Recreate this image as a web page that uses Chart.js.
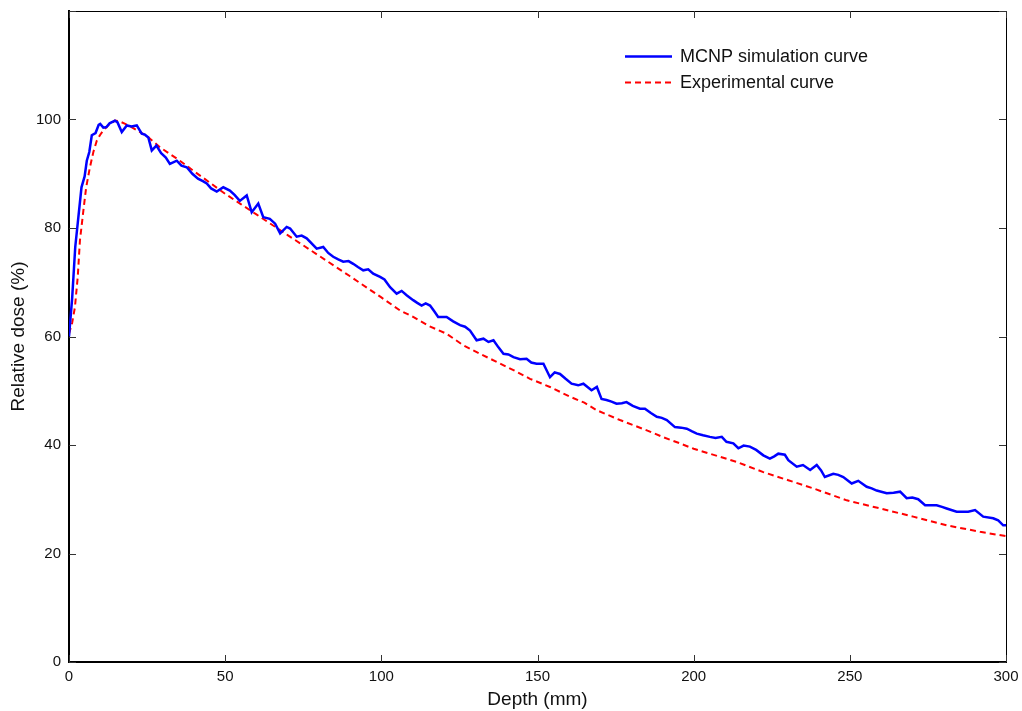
<!DOCTYPE html>
<html>
<head>
<meta charset="utf-8">
<script src="https://cdn.jsdelivr.net/npm/chart.js@4.4.1/dist/chart.umd.min.js"></script>
<style>
  html, body { margin: 0; padding: 0; background: #fff; }
  #wrap { width: 1022px; height: 711px; }
</style>
</head>
<body>
<div id="wrap"><canvas id="doseChart" width="1022" height="711"></canvas></div>
<script>
// depth / dose values
const xTicks = [0, 50, 100, 150, 200, 250, 300];
const yTicks = [0, 20, 40, 60, 80, 100, 120];

const depthSim = [0, 1, 2, 3, 4, 5, 5.7, 6.5, 7.3, 8.5, 9.5, 10, 11, 12, 13, 14.7, 15.5, 16.9, 18.5, 20,
  21.7, 23.3, 24.3, 25.4, 26.5, 28, 29.5, 31, 32.3, 34.5, 36, 37.7, 39.5, 41.3, 43, 44.1, 45.5, 47.3, 49.4, 51.5,
  53, 54.7, 56.9, 58.5, 60.6, 62.2, 64.3, 66, 67.6, 69.7, 70.8, 72.9, 74.5, 76.1, 79.3, 81.4, 83, 84.6, 86.2, 87.8,
  89.5, 91, 92.5, 94.2, 95.8, 97.4, 99.6, 101, 102.8, 104.9, 106.5, 108.1, 110.2, 111.5, 112.9, 114.2, 115.6, 117, 118.2, 120.9,
  123, 125.2, 126.8, 128.4, 130.5, 132.7, 134.3, 135.9, 137.5, 139.1, 140.7, 142.3, 144.4, 146.5, 148, 149.7, 151.9, 154, 155.5, 157.2,
  159, 160.9, 163, 164.7, 167.3, 169, 170.5, 172.1, 173.7, 175.3, 177, 178.5, 180.5, 182.8, 184.4, 186.3, 188.2, 189.8, 191.4, 194,
  196, 197.8, 199.5, 201, 203, 205.2, 207, 209, 210.5, 212.7, 214.3, 216, 218, 220, 222.3, 224.4, 225.8, 227.1, 229.2, 230.3,
  233, 235, 237.3, 239.4, 240.8, 242, 244.7, 246.3, 247.9, 250.6, 252.7, 255.4, 257, 258.6, 261.8, 264, 266.1, 268.2, 270, 271.9,
  274.1, 277.8, 279.5, 281, 284.2, 287.9, 290.1, 292.7, 295.9, 297.5, 299.1, 300];
const doseSim = [60, 67, 76.5, 82, 87.5, 89.5, 92.4, 94, 97.1, 97.5, 99, 99.2, 98.5, 98.6, 99.3, 99.8, 99.5, 97.7, 98.9, 98.7,
  98.9, 97.4, 97.2, 96.7, 94.3, 95.2, 93.8, 93, 91.8, 92.4, 91.5, 91.2, 90, 89.1, 88.6, 88.2, 87.3, 86.7, 87.5, 86.9,
  86.1, 85, 86, 82.9, 84.5, 82, 81.7, 80.8, 79, 80.2, 79.9, 78.4, 78.6, 78.1, 76.2, 76.5, 75.4, 74.7, 74.2, 73.8,
  73.9, 73.4, 72.8, 72.2, 72.4, 71.6, 71, 70.5, 69.1, 67.9, 68.4, 67.6, 66.7, 66.2, 65.7, 66.1, 65.7, 64.6, 63.6, 63.6,
  62.8, 62.1, 61.8, 61.1, 59.3, 59.6, 59, 59.3, 58, 56.8, 56.7, 56.2, 55.8, 55.9, 55.2, 55, 55, 52.5, 53.4, 53.1,
  52.2, 51.3, 51, 51.3, 50.1, 50.7, 48.5, 48.3, 48, 47.6, 47.7, 47.9, 47.2, 46.7, 46.7, 45.9, 45.2, 45, 44.6, 43.3,
  43.2, 43, 42.5, 42.1, 41.8, 41.5, 41.3, 41.5, 40.6, 40.3, 39.4, 39.9, 39.7, 39.1, 38.1, 37.5, 37.9, 38.4, 38.2, 37.2,
  36, 36.3, 35.4, 36.3, 35.3, 34.1, 34.7, 34.5, 34.1, 32.9, 33.4, 32.3, 32, 31.6, 31.1, 31.2, 31.4, 30.2, 30.3, 30,
  28.9, 28.9, 28.6, 28.3, 27.7, 27.7, 28, 26.8, 26.5, 26.1, 25.2, 25.2];

const depthExp = [0, 1, 1.9, 2.8, 3.5, 4.6, 5.5, 6.7, 7.8, 8.9, 10, 11, 12.5, 14.7, 16, 18, 20, 25, 29.1, 35,
  39.7, 45, 50, 55, 60, 65, 70, 75, 80, 85, 90, 96.4, 100, 106, 110.2, 115, 120.9, 126.2, 131.6, 137,
  142.3, 147.6, 154, 160.4, 165, 169, 176.4, 185, 190, 195.6, 200, 205.2, 213.7, 222.3, 230.3, 238.3, 249, 259.7, 270.3, 281,
  291.7, 300];
const doseExp = [60.5, 62.5, 65.4, 71, 77.7, 83.2, 87.5, 91.2, 94, 96.1, 97.2, 98, 98.9, 99.8, 99.7, 99.2, 98.6, 96.9, 94.9, 92.6,
  90.6, 88.4, 86.3, 84.4, 82.5, 80.6, 78.7, 76.8, 74.9, 73, 71.1, 68.6, 67.2, 64.8, 63.6, 62, 60.5, 58.4, 56.8, 55.3,
  53.8, 52.2, 50.7, 48.9, 47.8, 46.4, 44.6, 42.7, 41.5, 40.3, 39.3, 38.4, 36.9, 35, 33.5, 32, 29.8, 28.3, 26.8, 25.2,
  24, 23.2];

const simPoints = depthSim.map((d, i) => ({ x: d, y: doseSim[i] }));
const expPoints = depthExp.map((d, i) => ({ x: d, y: doseExp[i] }));

const FONT = '"Liberation Sans", Arial, sans-serif';

// MATLAB style box: thin top/right edges, ticks pointing inwards, legend inside
const boxPlugin = {
    id: 'box',
    afterDraw(chart) {
        const ctx = chart.ctx;
        const { left, right, top, bottom } = chart.chartArea;
        const xs = chart.scales.x, ys = chart.scales.y;
        ctx.save();
        ctx.strokeStyle = '#000';
        ctx.lineWidth = 1;
        ctx.beginPath();
        ctx.moveTo(left, top + 0.5); ctx.lineTo(right + 0.5, top + 0.5);
        ctx.moveTo(right + 0.5, top); ctx.lineTo(right + 0.5, bottom);
        ctx.stroke();

        ctx.strokeStyle = '#333';
        ctx.beginPath();
        xTicks.forEach(v => {
            const px = Math.round(xs.getPixelForValue(v)) + 0.5;
            ctx.moveTo(px, bottom); ctx.lineTo(px, bottom - 7);
            ctx.moveTo(px, top); ctx.lineTo(px, top + 7);
        });
        yTicks.forEach(v => {
            const py = Math.round(ys.getPixelForValue(v)) + 0.5;
            ctx.moveTo(left, py); ctx.lineTo(left + 7, py);
            ctx.moveTo(right, py); ctx.lineTo(right - 7, py);
        });
        ctx.stroke();

        // legend
        const lx = 625, lw = 47;
        const rows = [56, 82];
        ctx.font = '18px ' + FONT;
        ctx.textBaseline = 'middle';
        chart.data.datasets.forEach((ds, i) => {
            const y = rows[i] + 0.5;
            ctx.strokeStyle = ds.borderColor;
            ctx.lineWidth = ds.borderWidth;
            ctx.setLineDash(ds.borderDash || []);
            ctx.beginPath();
            ctx.moveTo(lx, y); ctx.lineTo(lx + lw, y);
            ctx.stroke();
            ctx.setLineDash([]);
            ctx.fillStyle = '#111';
            ctx.fillText(ds.label, 680, rows[i] + 1);
        });
        ctx.restore();
    }
};

const ctx = document.getElementById('doseChart').getContext('2d');
new Chart(ctx, {
    type: 'scatter',
    data: {
        datasets: [{
            label: 'MCNP simulation curve',
            data: simPoints,
            showLine: true,
            borderColor: '#0000ff',
            borderWidth: 2.5,
            pointRadius: 0,
            tension: 0
        }, {
            label: 'Experimental curve',
            data: expPoints,
            showLine: true,
            borderColor: '#ff0000',
            borderWidth: 2,
            borderDash: [6, 4],
            pointRadius: 0,
            tension: 0
        }]
    },
    options: {
        responsive: false,
        animation: false,
        layout: { padding: { top: 11, right: 16, left: 0, bottom: 0 } },
        plugins: {
            legend: { display: false },
            tooltip: { enabled: false }
        },
        scales: {
            x: {
                type: 'linear',
                min: 0,
                max: 300,
                afterBuildTicks: scale => { scale.ticks = xTicks.map(v => ({ value: v })); },
                afterFit: scale => {
                    scale.height = 49;
                    scale.paddingLeft = 0;
                    scale.paddingRight = 0;
                },
                grid: { display: false, drawTicks: false },
                border: { display: true, color: '#000', width: 2 },
                ticks: {
                    color: '#111',
                    padding: 6,
                    maxRotation: 0,
                    font: { family: FONT, size: 15 }
                },
                title: {
                    display: true,
                    text: 'Depth (mm)',
                    color: '#111',
                    padding: 0,
                    font: { family: FONT, size: 19 }
                }
            },
            y: {
                type: 'linear',
                min: 0,
                max: 120,
                afterBuildTicks: scale => { scale.ticks = yTicks.map(v => ({ value: v })); },
                afterFit: scale => {
                    scale.width = 69;
                    scale.paddingTop = 0;
                    scale.paddingBottom = 0;
                },
                grid: { display: false, drawTicks: false },
                border: { display: true, color: '#000', width: 2 },
                ticks: {
                    color: '#111',
                    padding: 8,
                    callback: v => (v === 120 ? '' : v),
                    font: { family: FONT, size: 15 }
                },
                title: {
                    display: true,
                    text: 'Relative dose (%)',
                    color: '#111',
                    padding: { top: 7, bottom: 0 },
                    font: { family: FONT, size: 19 }
                }
            }
        }
    },
    plugins: [boxPlugin]
});
</script>
</body>
</html>
